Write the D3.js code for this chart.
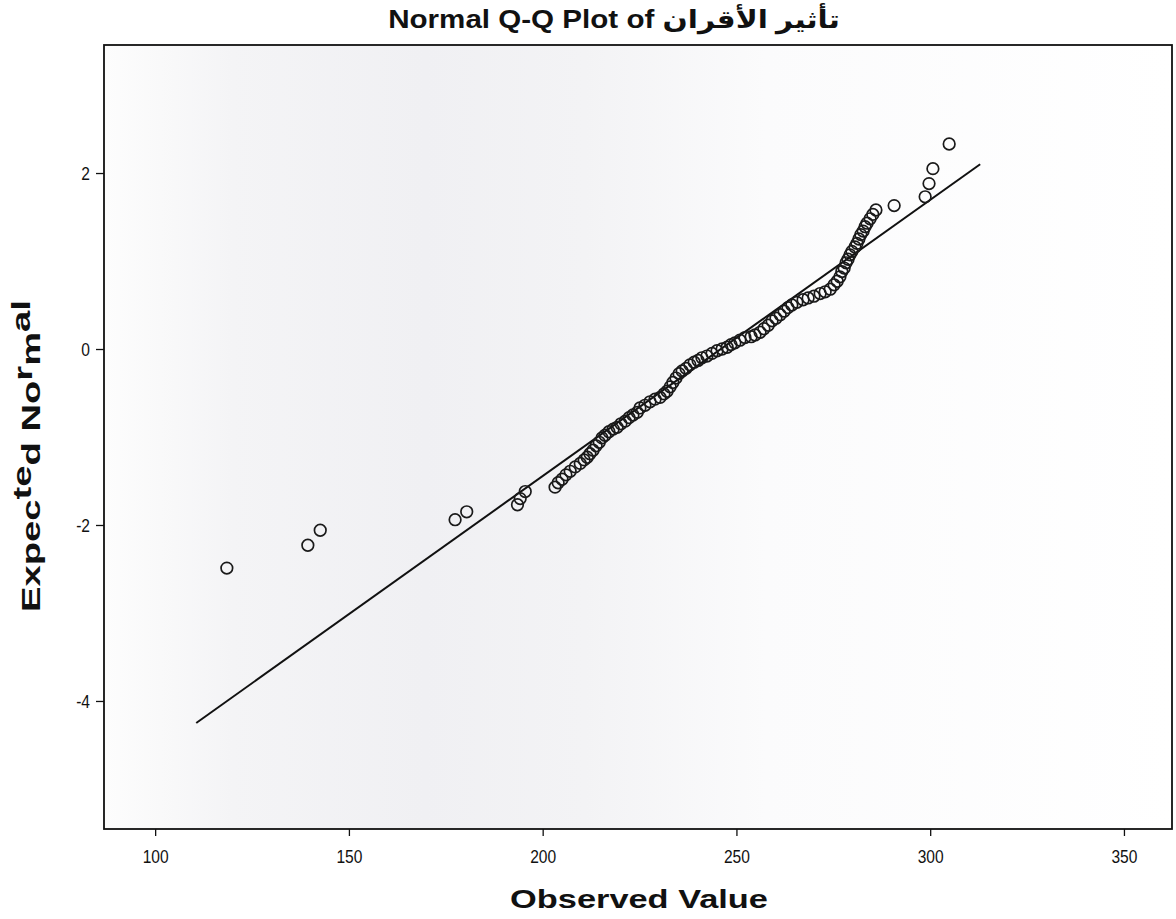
<!DOCTYPE html>
<html>
<head>
<meta charset="utf-8">
<script src="https://cdn.jsdelivr.net/npm/d3@7"></script>
<style>
  html, body { margin: 0; padding: 0; background: #ffffff; }
  svg { display: block; }
</style>
</head>
<body>
<svg id="chart" width="1176" height="919"></svg>
<script>
// ---- data ----
const observedValues = [
  118.5, 139.4, 142.6, 177.4, 180.4, 193.5, 194.2, 195.5, 203.2, 204.0,
  205.0, 206.0, 207.1, 208.4, 209.7, 210.7, 211.5, 212.2, 213.0, 213.8,
  214.6, 215.3, 216.1, 217.1, 218.2, 219.2, 220.2, 221.3, 222.3, 223.3,
  224.4, 225.1, 226.4, 227.7, 229.0, 230.3, 231.3, 232.1, 232.9, 233.6,
  234.4, 235.2, 236.0, 237.0, 238.0, 239.1, 240.1, 241.1, 242.4, 243.7,
  245.0, 246.3, 247.6, 248.6, 249.6, 250.9, 252.2, 253.8, 254.8, 256.1,
  257.1, 258.2, 259.2, 260.2, 261.3, 262.3, 263.3, 264.3, 265.6, 267.2,
  268.5, 270.0, 271.6, 272.9, 274.2, 275.2, 276.0, 276.7, 277.2, 277.8,
  278.3, 278.8, 279.3, 279.8, 280.6, 281.1, 281.6, 282.1, 282.7, 283.2,
  283.7, 284.5, 285.2, 286.0, 290.7, 298.7, 299.7, 300.7, 304.9
];
const expectedNormal = [
  -2.49, -2.23, -2.06, -1.94, -1.85, -1.77, -1.70, -1.62, -1.57, -1.52,
  -1.48, -1.43, -1.39, -1.34, -1.30, -1.26, -1.23, -1.19, -1.15, -1.10,
  -1.06, -1.01, -0.98, -0.94, -0.91, -0.89, -0.85, -0.82, -0.78, -0.75,
  -0.72, -0.67, -0.64, -0.60, -0.57, -0.55, -0.51, -0.48, -0.43, -0.38,
  -0.33, -0.28, -0.25, -0.22, -0.18, -0.15, -0.13, -0.10, -0.08, -0.05,
  -0.02, 0.00, 0.02, 0.05, 0.07, 0.10, 0.13, 0.14, 0.16, 0.19,
  0.23, 0.27, 0.32, 0.35, 0.39, 0.43, 0.47, 0.50, 0.53, 0.56,
  0.58, 0.60, 0.63, 0.65, 0.68, 0.73, 0.77, 0.82, 0.88, 0.92,
  0.98, 1.02, 1.07, 1.11, 1.16, 1.20, 1.25, 1.30, 1.34, 1.39,
  1.43, 1.48, 1.53, 1.58, 1.63, 1.73, 1.88, 2.05, 2.33
];
// reference line end points [observed, expected]
const refLineX = [110.6, 312.9];
const refLineY = [-4.25, 2.1];

const xTicks = [100, 150, 200, 250, 300, 350];
const yTicks = [2, 0, -2, -4];

const titleText = "Normal Q-Q Plot of تأثير الأقران";
const xLabelText = "Observed Value";

// ---- layout ----
const plot = { left: 104, top: 45, right: 1172, bottom: 829 };

const x = d3.scaleLinear().domain([86.8, 362.4]).range([plot.left, plot.right]);
const y = d3.scaleLinear().domain([-5.455, 3.455]).range([plot.bottom, plot.top]);

const svg = d3.select("#chart");
const font = "'Liberation Sans', Arial, 'DejaVu Sans', sans-serif";

// soft scanned-paper shading inside the plot
const defs = svg.append("defs");
const grad = defs.append("linearGradient").attr("id", "paper")
  .attr("x1", "0").attr("x2", "1").attr("y1", "0").attr("y2", "0");
[[0, "#fdfdfd"], [0.12, "#f4f4f6"], [0.3, "#f0f0f3"], [0.45, "#f3f3f5"], [0.62, "#fbfbfc"], [1, "#ffffff"]]
  .forEach(([o, c]) => grad.append("stop").attr("offset", o).attr("stop-color", c));

svg.append("rect")
  .attr("x", plot.left).attr("y", plot.top)
  .attr("width", plot.right - plot.left).attr("height", plot.bottom - plot.top)
  .attr("fill", "url(#paper)");

// reference line
const lineData = refLineX.map((v, i) => [v, refLineY[i]]);
svg.append("path")
  .datum(lineData)
  .attr("d", d3.line().x(d => x(d[0])).y(d => y(d[1])))
  .attr("fill", "none")
  .attr("stroke", "#111")
  .attr("stroke-width", 2);

// points
const pts = observedValues.map((v, i) => ({ v, z: expectedNormal[i] }));
svg.append("g").selectAll("circle")
  .data(pts)
  .join("circle")
  .attr("cx", d => x(d.v))
  .attr("cy", d => y(d.z))
  .attr("r", 5.8)
  .attr("fill", "none")
  .attr("stroke", "#1a1a1a")
  .attr("stroke-width", 1.7);

// frame
svg.append("rect")
  .attr("x", plot.left).attr("y", plot.top)
  .attr("width", plot.right - plot.left).attr("height", plot.bottom - plot.top)
  .attr("fill", "none")
  .attr("stroke", "#111")
  .attr("stroke-width", 1.8);

const fmt = d => String(d); // plain hyphen-minus like the reference

// helper: stretch/squeeze a text element horizontally to a target width
function fitWidth(sel, cx, cy, target, rotate) {
  const w = sel.node().getComputedTextLength();
  const s = target / w;
  sel.attr("transform", `translate(${cx},${cy})` + (rotate ? ` rotate(${rotate})` : "") + ` scale(${s},1)`);
}

// x axis
const xAxis = d3.axisBottom(x).tickValues(xTicks).tickSize(7).tickPadding(14).tickFormat(fmt);
const gx = svg.append("g").attr("transform", `translate(0,${plot.bottom})`).call(xAxis);
gx.select(".domain").remove();
gx.selectAll("line").attr("stroke", "#111").attr("stroke-width", 1.3);
gx.selectAll(".tick text").attr("font-family", font).attr("font-size", 19).attr("fill", "#111")
  .attr("transform", "scale(0.82,1)");

// y axis
const yAxis = d3.axisLeft(y).tickValues(yTicks).tickSize(8).tickPadding(4).tickFormat(fmt);
const gy = svg.append("g").attr("transform", `translate(${plot.left},0)`).call(yAxis);
gy.select(".domain").remove();
gy.selectAll("line").attr("stroke", "#111").attr("stroke-width", 1.3);
gy.selectAll(".tick text").attr("font-family", font).attr("font-size", 19).attr("fill", "#111")
  .attr("x", -14 / 0.82).attr("transform", "scale(0.82,1)");

// title
const title = svg.append("text")
  .attr("text-anchor", "middle")
  .attr("font-family", font)
  .attr("font-weight", "bold")
  .attr("font-size", 25)
  .attr("fill", "#111")
  .text(titleText);
fitWidth(title, 614, 28, 452);

// x label
const xLab = svg.append("text")
  .attr("text-anchor", "middle")
  .attr("font-family", font)
  .attr("font-weight", "bold")
  .attr("font-size", 26)
  .attr("fill", "#111")
  .text(xLabelText);
fitWidth(xLab, 639, 908, 258);

// y label (scanned look: some letters raised)
const yLab = svg.append("text")
  .attr("text-anchor", "middle")
  .attr("font-family", font)
  .attr("font-weight", "bold")
  .attr("font-size", 26)
  .attr("fill", "#111");
const yParts = [["Expec", 0], ["te", -9], ["d No", 9], ["r", -8], ["m", 8], ["al", -10]];
yParts.forEach(([t, dy]) => yLab.append("tspan").attr("dy", dy).text(t));
fitWidth(yLab, 40, 456, 312, -90);
</script>
</body>
</html>
